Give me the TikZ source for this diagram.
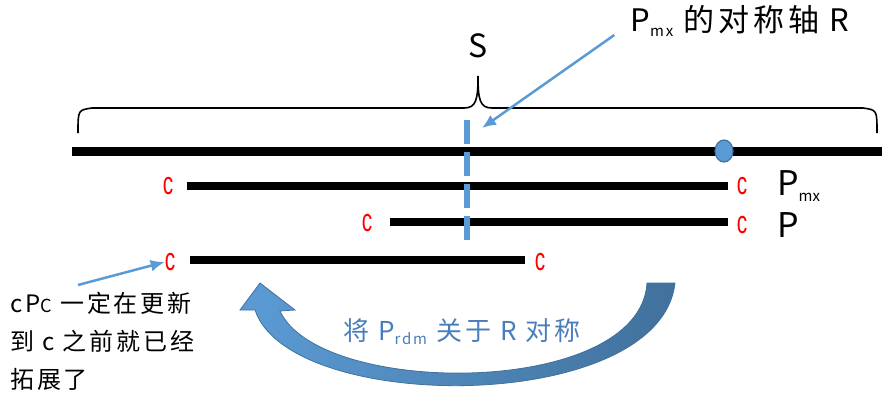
\documentclass[tikz,border=0pt]{standalone}
\usepackage{fontspec}
\setmainfont{Noto Sans CJK SC}
\newfontfamily\spc[LetterSpace=12]{Noto Sans CJK SC}
\newfontfamily\cfont{Liberation Sans}
\newcommand{\lowsub}[1]{\raisebox{-0.15em}{\fontsize{15}{15}\selectfont #1}}
\usetikzlibrary{arrows.meta,positioning,shapes.geometric}
\definecolor{axblue}{RGB}{91,155,213}
\definecolor{axdark}{RGB}{65,113,156}
\definecolor{txtblue}{RGB}{74,126,187}

\begin{document}
\begin{tikzpicture}[
  x=1pt,y=-1pt,
  bar/.style={line width=8pt},
  axisline/.style={axblue,line width=6pt,dash pattern=on 24pt off 8pt},
  thinarrow/.style={axblue,line width=2.5pt,-{Latex[length=14pt,width=12pt]}},
  redc/.style={red,font=\cfont\fontsize{32}{32}\selectfont,xscale=0.65,inner sep=0pt},
  lbl/.style={font=\fontsize{34}{34}\selectfont,inner sep=0pt}
]
\useasboundingbox (0,0) rectangle (882,407);
% main line and brace
\draw[line width=9pt] (72,151) coordinate (mainL) -- (882,151) coordinate (mainR);
\draw[line width=1.6pt] (78,133) .. controls (78,110) .. (92,108) -- (464,108)
  .. controls (476,108) and (478,100) .. (478,76) coordinate (btip)
  .. controls (478,100) and (480,108) .. (492,108) -- (863,108)
  .. controls (877,110) .. (877,133);
\node[lbl,font=\fontsize{32}{32}\selectfont] (S) at (478,46) {S};
\node[draw=axdark,fill=axblue,line width=1.2pt,ellipse,minimum width=18pt,
      minimum height=22pt,inner sep=0pt] (dot) at (724,151) {};
% segments
\draw[bar] (187,186) coordinate (mxL) -- (728,186) coordinate (mxR);
\draw[bar] (390,222) coordinate (pL) -- (728,222) coordinate (pR);
\draw[bar] (190,260) coordinate (rL) -- (525,260) coordinate (rR);
\node[redc] (c1) at (168,186) {c};
\node[redc] (c2) at (742,186) {c};
\node[redc] (c3) at (367,223) {c};
\node[redc] (c4) at (742,225) {c};
\node[redc] (c5) at (170,262) {c};
\node[redc] (c6) at (540,262) {c};
\node[lbl,anchor=west] (pmx) at (777,186) {P\lowsub{mx}};
\node[lbl,anchor=west] (p) at (777,225) {P};
% axis R
\draw[axisline] (467,120) coordinate (axtop) -- (467,240) coordinate (axbot);
\node[inner sep=0pt,font=\spc\fontsize{31}{31}\selectfont] (title) at (740,21)
  {P\lowsub{mx} 的对称轴 R};
\coordinate (rtip) at (482,128);
\draw[thinarrow] ([xshift=-16pt,yshift=-14pt]title.west) -- (rtip);
% note
\node[font=\spc\fontsize{24}{38}\selectfont,align=left,anchor=north west,inner sep=0pt]
  (note) at (10,292) {cP{\fontsize{18}{18}\selectfont C} 一定在更新\\到 c 之前就已经\\拓展了};
\draw[thinarrow] (78,285) -- (c5.west);
% reflection arrow
\path[draw=axdark,line width=0.8pt,left color=axblue,right color=axdark]
  (260,283) coordinate (headtip) -- (295,310) -- (280,311)
  .. controls (320,398) and (640,398) .. (647,283)
  -- (675,283) .. controls (660,415) and (290,415) .. (255,310)
  -- (240,310) -- cycle;
\node[txtblue,font=\spc\fontsize{26}{26}\selectfont] (refl) at (462,332)
  {将 P\lowsub{rdm} 关于 R 对称};
\end{tikzpicture}
\end{document}
